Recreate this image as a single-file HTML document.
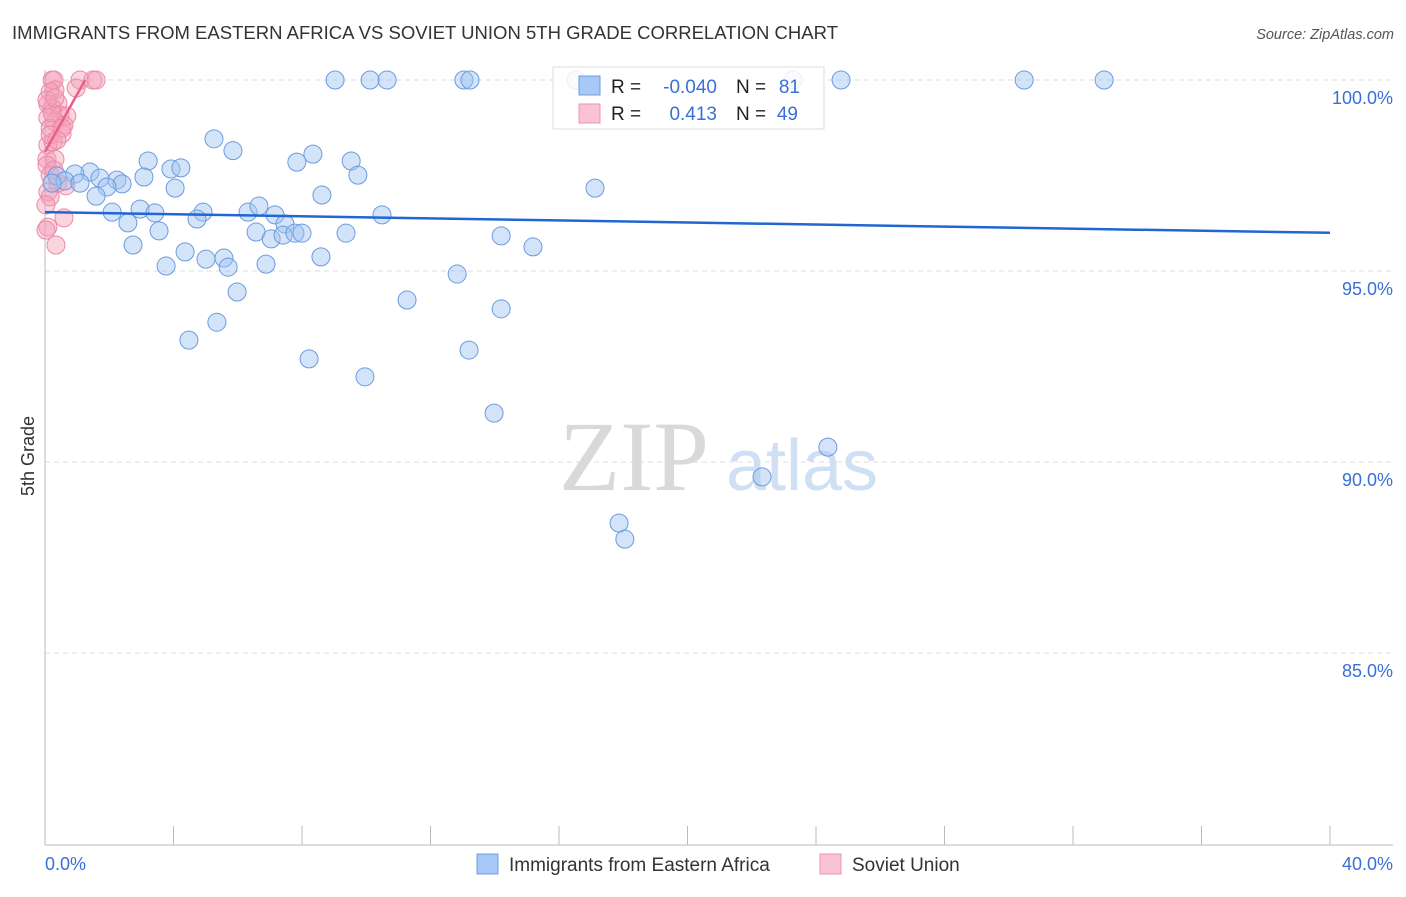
<!DOCTYPE html>
<html><head><meta charset="utf-8">
<style>
body{margin:0;background:#fff;font-family:"Liberation Sans",sans-serif;}
svg text{font-family:"Liberation Sans",sans-serif;}
</style></head>
<body>
<svg id="chart" width="1406" height="892" viewBox="0 0 1406 892" xmlns="http://www.w3.org/2000/svg">
<text x="12" y="39" font-size="18.5" fill="#333" textLength="826">IMMIGRANTS FROM EASTERN AFRICA VS SOVIET UNION 5TH GRADE CORRELATION CHART</text>
<text x="1394" y="39" font-size="14.5" fill="#555" text-anchor="end" font-style="italic">Source: ZipAtlas.com</text>
<g>
<text x="634" y="490" font-size="100" fill="#d9d9d9" style="font-family:'Liberation Serif',serif" text-anchor="middle">ZIP</text>
<text x="802" y="490" font-size="72" fill="#cfe0f5" text-anchor="middle">atlas</text>
</g>
<g id="grid"></g>
<g id="axes"></g>
<g id="pts"></g>
<g id="lines"></g>
<g>
<rect x="553" y="67" width="271" height="62" fill="#fff" fill-opacity="0.85" stroke="#ddd"/>
<rect x="579" y="76" width="21" height="19" fill="#a8c8f5" stroke="#6c9de0"/>
<rect x="579" y="104" width="21" height="19" fill="#f9c3d3" stroke="#ec95b0"/>
<text x="611" y="93" font-size="19" fill="#222">R = </text>
<text x="717" y="93" font-size="19" fill="#3a6fd8" text-anchor="end">-0.040</text>
<text x="736" y="93" font-size="19" fill="#222">N = </text>
<text x="800" y="93" font-size="19" fill="#3a6fd8" text-anchor="end">81</text>
<text x="611" y="120" font-size="19" fill="#222">R = </text>
<text x="717" y="120" font-size="19" fill="#3a6fd8" text-anchor="end">0.413</text>
<text x="736" y="120" font-size="19" fill="#222">N = </text>
<text x="798" y="120" font-size="19" fill="#3a6fd8" text-anchor="end">49</text>
</g>
<g>
<rect x="477" y="854" width="21" height="20" fill="#a8c8f5" stroke="#6c9de0"/>
<text x="509" y="871" font-size="19" fill="#333">Immigrants from Eastern Africa</text>
<rect x="820" y="854" width="21" height="20" fill="#f9c3d3" stroke="#ec95b0"/>
<text x="852" y="871" font-size="19" fill="#333">Soviet Union</text>
</g>
<text transform="translate(34,456) rotate(-90)" font-size="18" fill="#333" text-anchor="middle">5th Grade</text>
</svg>
<script>
const blueX=[9.03,10.12,10.65,13.04,13.23,16.53,23.29,24.78,30.48,32.97,5.26,5.85,3.21,7.84,8.34,9.53,3.92,4.23,9.74,3.08,1.40,0.93,0.37,0.62,0.22,1.71,2.24,2.40,1.93,1.09,4.05,17.12,8.62,1.59,2.09,2.96,3.42,4.92,6.32,6.66,7.16,4.73,10.49,2.58,3.55,6.57,7.47,7.04,7.41,7.78,8.00,9.37,14.20,2.74,4.36,15.19,5.01,5.57,5.70,3.77,6.88,8.59,12.83,5.98,11.27,14.20,5.35,4.48,13.20,8.22,9.96,13.98,24.37,22.32,17.87,18.05];
const blueY=[100,100,100,100,100,100,100,100,100,100,98.46,98.15,97.88,97.85,98.06,97.88,97.67,97.70,97.51,97.46,97.59,97.54,97.49,97.36,97.30,97.43,97.38,97.28,97.20,97.30,97.17,97.17,96.99,96.96,96.54,96.62,96.52,96.54,96.54,96.70,96.47,96.36,96.47,96.26,96.05,96.02,96.23,95.84,95.94,95.99,95.99,95.99,95.92,95.68,95.50,95.63,95.31,95.34,95.10,95.13,95.18,95.37,94.92,94.45,94.24,94.01,93.66,93.19,92.93,92.70,92.23,91.28,90.39,89.61,88.40,87.98];
const pinkX=[0.22,0.28,1.09,1.49,1.59,0.31,0.16,0.97,0.40,0.09,0.22,0.47,0.68,0.09,0.31,0.59,0.16,0.53,0.09,0.25,0.06,0.31,0.06,0.16,0.40,0.65,0.09,0.59,0.09,0.03,0.34,0.16,0.03,0.22,0.06,0.31,0.53,0.16,0.28,0.37];
const pinkY=[100,100,100,100,100,99.74,99.69,99.79,99.40,99.37,99.27,99.08,99.06,99.01,98.90,98.82,98.74,98.59,98.30,98.38,97.93,97.93,97.77,97.51,97.30,97.23,97.07,96.39,96.15,96.07,95.68,96.94,96.73,99.14,99.48,99.53,98.74,98.56,97.64,98.43];
const blueTrend=[[0,96.54],[40,96.0]];
const pinkTrend=[[0,98.12],[1.25,100]];
const yTicks=[100,95,90,85];
const yTickLabels=["100.0%","95.0%","90.0%","85.0%"];
const xTicks=[0,4,8,12,16,20,24,28,32,36,40];
const NS="http://www.w3.org/2000/svg";
const xs=v=>45+v/40*1285;
const ys=v=>80+(100-v)*38.2;
function mk(tag,attrs,parent){const e=document.createElementNS(NS,tag);for(const k in attrs)e.setAttribute(k,attrs[k]);document.getElementById(parent).appendChild(e);return e;}
yTicks.forEach((t,i)=>{
 const l=mk('line',{x1:45,x2:1393,y1:ys(t),y2:ys(t),stroke:'#ddd','stroke-dasharray':'5,4'},'grid');
 
 
 const tx=mk('text',{x:1393,y:ys(t)+24,'font-size':18,fill:'#3a6fd8','text-anchor':'end'},'grid');
 tx.textContent=yTickLabels[i];
 
 
});
const ya=mk('line',{x1:45,x2:45,y1:70,y2:845,stroke:'#bbb'},'axes');


const xa=mk('line',{x1:45,x2:1393,y1:845,y2:845,stroke:'#bbb'},'axes');


xTicks.forEach(t=>{
 const l=mk('line',{x1:xs(t),x2:xs(t),y1:826,y2:845,stroke:'#bbb'},'axes');
 
 
});
const x0=mk('text',{x:45,y:870,'font-size':18,fill:'#3a6fd8'},'axes');x0.textContent='0.0%';


const x1=mk('text',{x:1393,y:870,'font-size':18,fill:'#3a6fd8','text-anchor':'end'},'axes');x1.textContent='40.0%';


pinkX.forEach((x,i)=>{
 const c=mk('circle',{cx:xs(x),cy:ys(pinkY[i]),r:9,fill:'rgba(245,160,185,0.45)',stroke:'#eb8aa8','stroke-width':1},'pts');
 
 
});
blueX.forEach((x,i)=>{
 const c=mk('circle',{cx:xs(x),cy:ys(blueY[i]),r:9,fill:'rgba(160,196,240,0.45)',stroke:'#6b9be0','stroke-width':1},'pts');
 
 
});
const bl=mk('line',{x1:xs(blueTrend[0][0]),y1:ys(blueTrend[0][1]),x2:xs(blueTrend[1][0]),y2:ys(blueTrend[1][1]),stroke:'#2166d1','stroke-width':2.5},'lines');


const pl=mk('line',{x1:xs(pinkTrend[0][0]),y1:ys(pinkTrend[0][1]),x2:xs(pinkTrend[1][0]),y2:ys(pinkTrend[1][1]),stroke:'#e8608a','stroke-width':2.5},'lines');


</script>
</body></html>
